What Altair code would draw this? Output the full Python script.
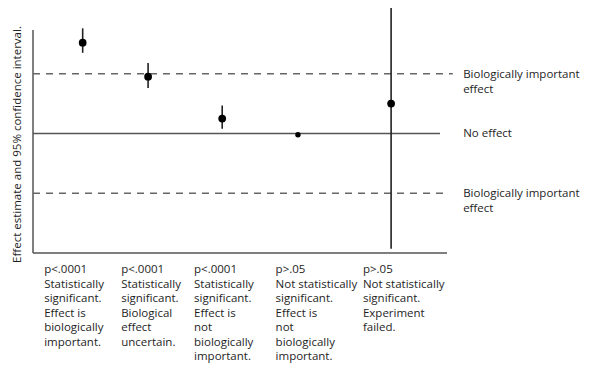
import altair as alt
import pandas as pd

# Effect estimates with 95% confidence limits for five hypothetical studies
study = ["A", "B", "C", "D", "E"]
study_x = [1.20, 2.78, 4.57, 6.40, 8.65]
estimate = [1.52, 0.95, 0.25, -0.02, 0.50]
ci_low = [1.35, 0.76, 0.08, -0.04, -1.93]
ci_high = [1.76, 1.18, 0.47, 0.00, 2.10]
marker_size = [60, 60, 60, 30, 60]

# Captions under each study
captions = [
    "p<.0001\nStatistically\nsignificant.\nEffect is\nbiologically\nimportant.",
    "p<.0001\nStatistically\nsignificant.\nBiological\neffect\nuncertain.",
    "p<.0001\nStatistically\nsignificant.\nEffect is\nnot\nbiologically\nimportant.",
    "p>.05\nNot statistically\nsignificant.\nEffect is\nnot\nbiologically\nimportant.",
    "p>.05\nNot statistically\nsignificant.\nExperiment\nfailed.",
]
caption_x = [0.27, 2.13, 3.89, 5.86, 7.97]

# Reference lines: biologically important effect (+/-) and no effect
ref_value = [1, 0, -1]
ref_end = [10.14, 9.83, 10.0]
ref_kind = ["dashed", "solid", "dashed"]
ref_label = ["Biologically important\neffect", "No effect", "Biologically important\neffect"]
label_x = 10.39

FONT = "Open Sans"
TEXT = "#1e1e1e"

pts = pd.DataFrame({"study": study, "x": study_x, "est": estimate,
                    "lo": ci_low, "hi": ci_high, "size": marker_size})
refs = pd.DataFrame({"value": ref_value, "end": ref_end, "kind": ref_kind,
                     "label": ref_label, "lx": label_x})
caps = pd.DataFrame({"x": caption_x, "text": captions, "y": -2.0})
frame = pd.DataFrame({"x0": [0.0], "x1": [10.0], "y0": [-2.0], "y1": [1.73]})

xs = alt.Scale(domain=[0, 10], nice=False, zero=False)
ys = alt.Scale(domain=[-2, 2.1], nice=False, zero=False)

y_title = alt.Axis(domain=False, ticks=False, labels=False, grid=False,
                   title="Effect estimate and 95% confidence interval.",
                   titleFont=FONT, titleFontSize=11.5, titleFontWeight="normal",
                   titleColor=TEXT, titleX=-16, titleY=136, titleAngle=270,
                   titleAlign="center", titleBaseline="middle")

# Axis frame drawn as rules
y_axis_line = alt.Chart(frame).mark_rule(color="#555", strokeWidth=1.5).encode(
    x=alt.X("x0:Q", scale=xs, axis=None),
    y=alt.Y("y0:Q", scale=ys, axis=y_title),
    y2="y1:Q",
)
x_axis_line = alt.Chart(frame).mark_rule(color="#555", strokeWidth=1.5).encode(
    x=alt.X("x0:Q", scale=xs, axis=None),
    x2="x1:Q",
    y=alt.Y("y0:Q", scale=ys),
)

dashed = alt.Chart(refs).transform_filter(alt.datum.kind == "dashed").mark_rule(
    color="#666", strokeWidth=1.5, strokeDash=[7, 6]
).encode(x=alt.X("x0:Q", scale=xs), x2="end:Q", y=alt.Y("value:Q", scale=ys)).transform_calculate(x0="0")

solid = alt.Chart(refs).transform_filter(alt.datum.kind == "solid").mark_rule(
    color="#555", strokeWidth=1.5
).encode(x=alt.X("x0:Q", scale=xs), x2="end:Q", y=alt.Y("value:Q", scale=ys)).transform_calculate(x0="0")

ref_text = alt.Chart(refs).mark_text(
    align="left", baseline="middle", font=FONT, fontSize=11.5, color=TEXT,
    lineBreak="\n", lineHeight=15, dy=1
).encode(x=alt.X("lx:Q", scale=xs), y=alt.Y("value:Q", scale=ys), text="label:N")

ci = alt.Chart(pts).mark_rule(color="#222", strokeWidth=1.6).encode(
    x=alt.X("x:Q", scale=xs), y=alt.Y("lo:Q", scale=ys), y2="hi:Q"
)

dots = alt.Chart(pts).mark_circle(color="#000", opacity=1).encode(
    x=alt.X("x:Q", scale=xs), y=alt.Y("est:Q", scale=ys),
    size=alt.Size("size:Q", scale=None, legend=None),
)

cap_text = alt.Chart(caps).mark_text(
    align="left", baseline="top", font=FONT, fontSize=11.5, color=TEXT,
    lineBreak="\n", lineHeight=14.5, dy=11
).encode(x=alt.X("x:Q", scale=xs), y=alt.Y("y:Q", scale=ys), text="text:N")

chart = alt.layer(
    y_axis_line, x_axis_line, dashed, solid, ci, dots, ref_text, cap_text
).properties(
    width=414, height=245,
    autosize=alt.AutoSizeParams(type="none"),
    padding={"left": 33, "top": 8, "right": 149, "bottom": 124},
    background="white",
).configure_view(stroke=None)

chart.save("out.html", embed_options={"renderer": "svg", "actions": False})
